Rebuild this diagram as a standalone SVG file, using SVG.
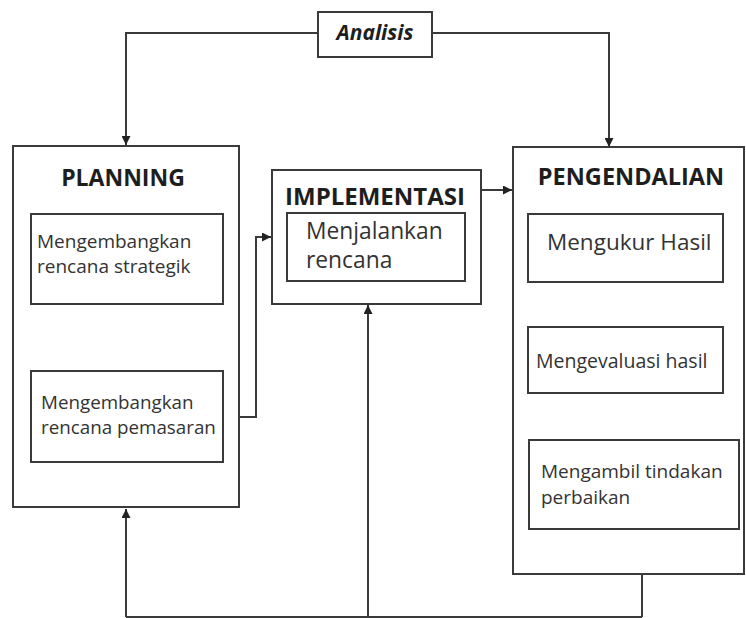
<svg xmlns="http://www.w3.org/2000/svg" width="746" height="618" viewBox="0 0 746 618">
<defs>
<style>
.box{fill:#fff;stroke:#3a3a3a;stroke-width:2}
.ln{fill:none;stroke:#3a3a3a;stroke-width:2}
.t{font-family:"Open Sans","Noto Sans",sans-serif;fill:#333}
.h{font-family:"Open Sans","Noto Sans",sans-serif;font-weight:bold;fill:#1e1e1e}
</style>
<marker id="ar2" viewBox="0 0 10 10" refX="10" refY="5" markerWidth="10" markerHeight="9" markerUnits="userSpaceOnUse" orient="auto">
<path d="M0,0 L10,5 L0,10 z" fill="#222"/>
</marker>
</defs>
<rect width="746" height="618" fill="#fff"/>
<g id="connectors">
<path class="ln" d="M318,33 H126 V145" marker-end="url(#ar2)"/>
<path class="ln" d="M432,33 H609 V147" marker-end="url(#ar2)"/>
<path class="ln" d="M126,304 V370" marker-end="url(#ar2)"/>
<path class="ln" d="M223,417 H256 V237 H271" marker-end="url(#ar2)"/>
<path class="ln" d="M481,190 H512" marker-end="url(#ar2)"/>
<path class="ln" d="M642,282 V326" marker-end="url(#ar2)"/>
<path class="ln" d="M642,393 V439" marker-end="url(#ar2)"/>
<path class="ln" d="M126,617 H642"/>
<path class="ln" d="M126,617 V509" marker-end="url(#ar2)"/>
<path class="ln" d="M368,617 V305" marker-end="url(#ar2)"/>
<path class="ln" d="M642,617 V530" marker-end="url(#ar2)"/>
</g>
<g id="analisis">
<rect class="box" x="318" y="12" width="114" height="45"/>
<text class="h" x="375" y="40" font-size="21" font-style="italic" text-anchor="middle">Analisis</text>
</g>
<g id="planning">
<rect class="box" x="13" y="146" width="226" height="361" fill="none"/>
<text class="h" x="123" y="186" font-size="23" text-anchor="middle">PLANNING</text>
</g>
<g id="strategik">
<rect class="box" x="31" y="214" width="192" height="90"/>
<text class="t" x="37" y="248" font-size="19">Mengembangkan</text>
<text class="t" x="37" y="273" font-size="19">rencana strategik</text>
</g>
<g id="pemasaran">
<rect class="box" x="31" y="371" width="192" height="91"/>
<text class="t" x="41" y="409" font-size="18.8">Mengembangkan</text>
<text class="t" x="41" y="434" font-size="18.8">rencana pemasaran</text>
</g>
<g id="implementasi">
<rect class="box" x="272" y="170" width="209" height="134"/>
<text class="h" x="375" y="205" font-size="24" text-anchor="middle">IMPLEMENTASI</text>
</g>
<g id="menjalankan">
<rect class="box" x="287" y="213" width="178" height="68"/>
<text class="t" x="306" y="239" font-size="22.8">Menjalankan</text>
<text class="t" x="306" y="268" font-size="22.8">rencana</text>
</g>
<g id="pengendalian">
<rect class="box" x="513" y="147" width="231" height="427"/>
<text class="h" x="631" y="185" font-size="23.5" text-anchor="middle">PENGENDALIAN</text>
</g>
<g id="mengukur">
<rect class="box" x="528" y="214" width="195" height="68"/>
<text class="t" x="547" y="250" font-size="22.5">Mengukur Hasil</text>
</g>
<g id="evaluasi">
<rect class="box" x="528" y="327" width="195" height="66"/>
<text class="t" x="536" y="368" font-size="19.5">Mengevaluasi hasil</text>
</g>
<g id="tindakan">
<rect class="box" x="529" y="440" width="210" height="89"/>
<text class="t" x="541" y="478" font-size="19">Mengambil tindakan</text>
<text class="t" x="541" y="504" font-size="19">perbaikan</text>
</g>
</svg>
